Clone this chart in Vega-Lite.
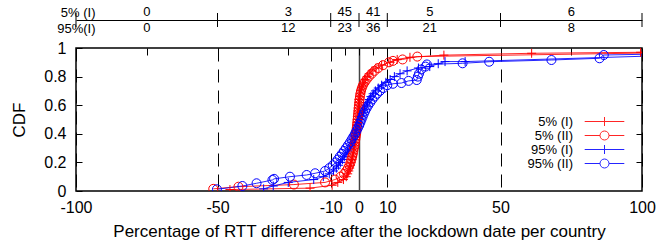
{
  "$schema": "https://vega.github.io/schema/vega-lite/v6.json",
  "background": "white",
  "padding": {"left": 10, "top": 4, "right": 0, "bottom": 0},
  "spacing": 3,
  "config": {
    "font": "Liberation Sans",
    "view": {"stroke": "black", "strokeWidth": 1.5},
    "axis": {"labelFont": "Liberation Sans", "titleFont": "Liberation Sans", "labelColor": "black", "titleColor": "black"}
  },
  "vconcat": [
    {
      "width": 566,
      "height": 32,
      "view": {"stroke": null},
      "layer": [
        {
          "data": {"values": [{"b": -100}, {"b": -50}, {"b": -10}, {"b": 0}, {"b": 10}, {"b": 50}, {"b": 100}]},
          "mark": {"type": "tick", "size": 14, "thickness": 1, "color": "black", "opacity": 1},
          "encoding": {
            "x": {"field": "b", "type": "quantitative", "scale": {"domain": [-100, 100], "nice": false, "zero": false},
              "axis": {"orient": "bottom", "offset": -16, "domain": true, "domainColor": "black", "domainWidth": 1, "ticks": false, "labels": false, "grid": false, "title": null}}
          }
        },
        {
          "data": {"values": [
            {"row": "5% (I)", "mid": -75, "n": "0"}, {"row": "5% (I)", "mid": -25, "n": "3"}, {"row": "5% (I)", "mid": -5, "n": "45"},
            {"row": "5% (I)", "mid": 5, "n": "41"}, {"row": "5% (I)", "mid": 25, "n": "5"}, {"row": "5% (I)", "mid": 75, "n": "6"},
            {"row": "95%(I)", "mid": -75, "n": "0"}, {"row": "95%(I)", "mid": -25, "n": "12"}, {"row": "95%(I)", "mid": -5, "n": "23"},
            {"row": "95%(I)", "mid": 5, "n": "36"}, {"row": "95%(I)", "mid": 25, "n": "21"}, {"row": "95%(I)", "mid": 75, "n": "8"}
          ]},
          "mark": {"type": "text", "fontSize": 13, "font": "Liberation Sans", "color": "black"},
          "encoding": {
            "x": {"field": "mid", "type": "quantitative"},
            "y": {"field": "row", "type": "nominal", "scale": {"domain": ["5% (I)", "95%(I)"], "paddingInner": 0, "paddingOuter": 0},
              "axis": {"title": null, "ticks": false, "domain": false, "labelFontSize": 13, "labelPadding": -19, "labelAlign": "right", "grid": false}},
            "text": {"field": "n"}
          }
        }
      ]
    },
    {
      "width": 566,
      "height": 143,
      "data": {"values": [
        {"s":"5% (I)","x":-45.6,"y":0.01},{"s":"5% (I)","x":-17.3,"y":0.02},{"s":"5% (I)","x":-9.5,"y":0.04},{"s":"5% (I)","x":-7.5,"y":0.06},{"s":"5% (I)","x":-5.5,"y":0.08},{"s":"5% (I)","x":-4.5,"y":0.10},{"s":"5% (I)","x":-4.0,"y":0.12},{"s":"5% (I)","x":-3.6,"y":0.14},{"s":"5% (I)","x":-3.3,"y":0.16},{"s":"5% (I)","x":-3.0,"y":0.18},{"s":"5% (I)","x":-2.8,"y":0.20},{"s":"5% (I)","x":-2.5,"y":0.22},{"s":"5% (I)","x":-2.3,"y":0.24},{"s":"5% (I)","x":-2.1,"y":0.26},{"s":"5% (I)","x":-1.9,"y":0.28},{"s":"5% (I)","x":-1.7,"y":0.30},{"s":"5% (I)","x":-1.5,"y":0.32},{"s":"5% (I)","x":-1.4,"y":0.34},{"s":"5% (I)","x":-1.3,"y":0.36},{"s":"5% (I)","x":-1.2,"y":0.38},{"s":"5% (I)","x":-1.1,"y":0.40},{"s":"5% (I)","x":-1.0,"y":0.42},{"s":"5% (I)","x":-0.9,"y":0.44},{"s":"5% (I)","x":-0.8,"y":0.46},{"s":"5% (I)","x":-0.7,"y":0.48},{"s":"5% (I)","x":-0.6,"y":0.50},{"s":"5% (I)","x":-0.5,"y":0.52},{"s":"5% (I)","x":-0.4,"y":0.54},{"s":"5% (I)","x":-0.35,"y":0.56},{"s":"5% (I)","x":-0.3,"y":0.58},{"s":"5% (I)","x":-0.2,"y":0.60},{"s":"5% (I)","x":-0.1,"y":0.62},{"s":"5% (I)","x":0.0,"y":0.64},{"s":"5% (I)","x":0.2,"y":0.66},{"s":"5% (I)","x":0.4,"y":0.68},{"s":"5% (I)","x":0.6,"y":0.70},{"s":"5% (I)","x":0.9,"y":0.72},{"s":"5% (I)","x":1.3,"y":0.74},{"s":"5% (I)","x":1.7,"y":0.76},{"s":"5% (I)","x":2.2,"y":0.78},{"s":"5% (I)","x":2.9,"y":0.80},{"s":"5% (I)","x":3.6,"y":0.82},{"s":"5% (I)","x":4.6,"y":0.84},{"s":"5% (I)","x":6.0,"y":0.86},{"s":"5% (I)","x":8.0,"y":0.88},{"s":"5% (I)","x":11.0,"y":0.90},{"s":"5% (I)","x":13.5,"y":0.92},{"s":"5% (I)","x":18,"y":0.935},{"s":"5% (I)","x":30,"y":0.95},{"s":"5% (I)","x":61,"y":0.963},{"s":"5% (I)","x":99.5,"y":0.97},{"s":"5% (I)","x":140,"y":0.98},
        {"s":"5% (II)","x":-51.5,"y":0.015},{"s":"5% (II)","x":-42.6,"y":0.03},{"s":"5% (II)","x":-23,"y":0.045},{"s":"5% (II)","x":-12,"y":0.06},{"s":"5% (II)","x":-8.5,"y":0.08},{"s":"5% (II)","x":-6.5,"y":0.10},{"s":"5% (II)","x":-5.3,"y":0.12},{"s":"5% (II)","x":-4.5,"y":0.14},{"s":"5% (II)","x":-3.9,"y":0.16},{"s":"5% (II)","x":-3.4,"y":0.18},{"s":"5% (II)","x":-3.0,"y":0.20},{"s":"5% (II)","x":-2.7,"y":0.22},{"s":"5% (II)","x":-2.4,"y":0.24},{"s":"5% (II)","x":-2.2,"y":0.26},{"s":"5% (II)","x":-2.0,"y":0.28},{"s":"5% (II)","x":-1.8,"y":0.30},{"s":"5% (II)","x":-1.6,"y":0.32},{"s":"5% (II)","x":-1.45,"y":0.34},{"s":"5% (II)","x":-1.3,"y":0.36},{"s":"5% (II)","x":-1.15,"y":0.38},{"s":"5% (II)","x":-1.0,"y":0.40},{"s":"5% (II)","x":-0.9,"y":0.42},{"s":"5% (II)","x":-0.8,"y":0.44},{"s":"5% (II)","x":-0.7,"y":0.46},{"s":"5% (II)","x":-0.6,"y":0.48},{"s":"5% (II)","x":-0.5,"y":0.50},{"s":"5% (II)","x":-0.4,"y":0.52},{"s":"5% (II)","x":-0.3,"y":0.54},{"s":"5% (II)","x":-0.2,"y":0.56},{"s":"5% (II)","x":-0.1,"y":0.58},{"s":"5% (II)","x":0.0,"y":0.60},{"s":"5% (II)","x":0.1,"y":0.62},{"s":"5% (II)","x":0.2,"y":0.64},{"s":"5% (II)","x":0.35,"y":0.66},{"s":"5% (II)","x":0.5,"y":0.68},{"s":"5% (II)","x":0.7,"y":0.70},{"s":"5% (II)","x":1.0,"y":0.72},{"s":"5% (II)","x":1.4,"y":0.74},{"s":"5% (II)","x":2.0,"y":0.76},{"s":"5% (II)","x":2.7,"y":0.78},{"s":"5% (II)","x":3.5,"y":0.80},{"s":"5% (II)","x":4.5,"y":0.82},{"s":"5% (II)","x":5.5,"y":0.84},{"s":"5% (II)","x":6.8,"y":0.86},{"s":"5% (II)","x":8.5,"y":0.88},{"s":"5% (II)","x":10.6,"y":0.90},{"s":"5% (II)","x":12,"y":0.91},{"s":"5% (II)","x":15.4,"y":0.92},{"s":"5% (II)","x":20.6,"y":0.94},{"s":"5% (II)","x":150,"y":0.98},
        {"s":"95% (I)","x":-33.7,"y":0.015},{"s":"95% (I)","x":-30.3,"y":0.035},{"s":"95% (I)","x":-25,"y":0.06},{"s":"95% (I)","x":-16,"y":0.08},{"s":"95% (I)","x":-12.6,"y":0.10},{"s":"95% (I)","x":-10.5,"y":0.12},{"s":"95% (I)","x":-9,"y":0.14},{"s":"95% (I)","x":-8,"y":0.16},{"s":"95% (I)","x":-7.2,"y":0.18},{"s":"95% (I)","x":-6.5,"y":0.20},{"s":"95% (I)","x":-5.8,"y":0.22},{"s":"95% (I)","x":-5.2,"y":0.24},{"s":"95% (I)","x":-4.6,"y":0.26},{"s":"95% (I)","x":-4.0,"y":0.28},{"s":"95% (I)","x":-3.5,"y":0.30},{"s":"95% (I)","x":-3.0,"y":0.32},{"s":"95% (I)","x":-2.6,"y":0.34},{"s":"95% (I)","x":-2.2,"y":0.36},{"s":"95% (I)","x":-1.8,"y":0.38},{"s":"95% (I)","x":-1.4,"y":0.40},{"s":"95% (I)","x":-1.0,"y":0.42},{"s":"95% (I)","x":-0.7,"y":0.44},{"s":"95% (I)","x":-0.4,"y":0.46},{"s":"95% (I)","x":0.0,"y":0.48},{"s":"95% (I)","x":0.4,"y":0.50},{"s":"95% (I)","x":0.8,"y":0.52},{"s":"95% (I)","x":1.2,"y":0.54},{"s":"95% (I)","x":1.6,"y":0.56},{"s":"95% (I)","x":2.0,"y":0.58},{"s":"95% (I)","x":2.5,"y":0.60},{"s":"95% (I)","x":3.0,"y":0.62},{"s":"95% (I)","x":3.6,"y":0.64},{"s":"95% (I)","x":4.2,"y":0.66},{"s":"95% (I)","x":5.0,"y":0.68},{"s":"95% (I)","x":5.8,"y":0.70},{"s":"95% (I)","x":6.8,"y":0.72},{"s":"95% (I)","x":8.0,"y":0.74},{"s":"95% (I)","x":9.5,"y":0.76},{"s":"95% (I)","x":11,"y":0.78},{"s":"95% (I)","x":12.5,"y":0.80},{"s":"95% (I)","x":14.5,"y":0.82},{"s":"95% (I)","x":17,"y":0.84},{"s":"95% (I)","x":21,"y":0.86},{"s":"95% (I)","x":25,"y":0.87},{"s":"95% (I)","x":28,"y":0.89},{"s":"95% (I)","x":30.4,"y":0.905},{"s":"95% (I)","x":37.5,"y":0.905},{"s":"95% (I)","x":105,"y":0.945},
        {"s":"95% (II)","x":-50.2,"y":0.012},{"s":"95% (II)","x":-41.2,"y":0.035},{"s":"95% (II)","x":-36.2,"y":0.054},{"s":"95% (II)","x":-30.6,"y":0.077},{"s":"95% (II)","x":-30,"y":0.085},{"s":"95% (II)","x":-24.4,"y":0.10},{"s":"95% (II)","x":-18.5,"y":0.112},{"s":"95% (II)","x":-15.5,"y":0.124},{"s":"95% (II)","x":-12,"y":0.14},{"s":"95% (II)","x":-10.5,"y":0.16},{"s":"95% (II)","x":-9.3,"y":0.18},{"s":"95% (II)","x":-8.3,"y":0.20},{"s":"95% (II)","x":-7.5,"y":0.22},{"s":"95% (II)","x":-6.8,"y":0.24},{"s":"95% (II)","x":-6.0,"y":0.26},{"s":"95% (II)","x":-5.3,"y":0.28},{"s":"95% (II)","x":-4.6,"y":0.30},{"s":"95% (II)","x":-3.9,"y":0.32},{"s":"95% (II)","x":-3.2,"y":0.34},{"s":"95% (II)","x":-2.6,"y":0.36},{"s":"95% (II)","x":-2.0,"y":0.38},{"s":"95% (II)","x":-1.4,"y":0.40},{"s":"95% (II)","x":-0.9,"y":0.42},{"s":"95% (II)","x":-0.4,"y":0.44},{"s":"95% (II)","x":0.1,"y":0.46},{"s":"95% (II)","x":0.5,"y":0.48},{"s":"95% (II)","x":0.9,"y":0.50},{"s":"95% (II)","x":1.3,"y":0.52},{"s":"95% (II)","x":1.7,"y":0.54},{"s":"95% (II)","x":2.2,"y":0.56},{"s":"95% (II)","x":2.7,"y":0.58},{"s":"95% (II)","x":3.3,"y":0.60},{"s":"95% (II)","x":4.0,"y":0.62},{"s":"95% (II)","x":4.7,"y":0.64},{"s":"95% (II)","x":5.5,"y":0.66},{"s":"95% (II)","x":6.4,"y":0.68},{"s":"95% (II)","x":7.4,"y":0.70},{"s":"95% (II)","x":8.6,"y":0.72},{"s":"95% (II)","x":10,"y":0.74},{"s":"95% (II)","x":12,"y":0.75},{"s":"95% (II)","x":15,"y":0.755},{"s":"95% (II)","x":17.5,"y":0.77},{"s":"95% (II)","x":20.4,"y":0.776},{"s":"95% (II)","x":20.8,"y":0.80},{"s":"95% (II)","x":21.2,"y":0.82},{"s":"95% (II)","x":22,"y":0.85},{"s":"95% (II)","x":23.5,"y":0.87},{"s":"95% (II)","x":24,"y":0.885},{"s":"95% (II)","x":36.6,"y":0.893},{"s":"95% (II)","x":46,"y":0.904},{"s":"95% (II)","x":68,"y":0.916},{"s":"95% (II)","x":85,"y":0.928},{"s":"95% (II)","x":86.5,"y":0.951},{"s":"95% (II)","x":140,"y":0.97}
      ]},
      "layer": [
        {
          "mark": {"type": "line", "strokeWidth": 1, "clip": true, "opacity": 0.85},
          "encoding": {
            "x": {"field": "x", "type": "quantitative", "scale": {"domain": [-100, 100], "nice": false, "zero": false},
              "axis": {"orient": "bottom", "values": [-100, -50, -10, 0, 10, 50, 100], "labelExpr": "'' + datum.value", "ticks": false, "domain": false,
                "grid": true,
                "gridColor": {"condition": {"test": "datum.value === 0", "value": "#444444"}, "value": "black"},
                "gridDash": {"condition": {"test": "datum.value === 0", "value": []}, "value": [13, 8]},
                "gridWidth": {"condition": {"test": "datum.value === 0", "value": 1.5}, "value": 1},
                "labelFontSize": 16, "labelPadding": 8, "labelFlush": false,
                "title": "Percentage of RTT difference after the lockdown date per country", "titleFontSize": 17, "titleFontWeight": "normal", "titlePadding": 8}},
            "y": {"field": "y", "type": "quantitative", "scale": {"domain": [0, 1], "nice": false},
              "axis": {"orient": "left", "values": [0, 0.2, 0.4, 0.6, 0.8, 1], "labelExpr": "'' + datum.value", "ticks": true, "tickSize": -6, "tickColor": "black", "domain": false, "grid": false,
                "labelFontSize": 16, "labelPadding": 16, "labelFlush": false, "title": "CDF", "titleFontSize": 17, "titleFontWeight": "normal", "titlePadding": 15}},
            "color": {"field": "s", "type": "nominal", "scale": {"domain": ["5% (I)", "5% (II)", "95% (I)", "95% (II)"], "range": ["#ff0000", "#ff0000", "#0000ff", "#0000ff"]}}
          }
        },
        {
          "transform": [{"filter": "indexof(datum.s, '(II)') < 0"}],
          "mark": {"type": "point", "shape": "M-1,0L1,0M0,-1L0,1", "filled": false, "strokeWidth": 1, "clip": true, "size": 81, "opacity": 1},
          "encoding": {
            "x": {"field": "x", "type": "quantitative", "scale": {"domain": [-100, 100], "nice": false, "zero": false},
              "axis": {"orient": "top", "values": [-75, -50, -25, -10, -5, 0, 5, 10, 25, 50, 75], "labels": false, "domain": false, "grid": false, "ticks": true, "tickSize": -7, "tickColor": "black", "title": null}},
            "y": {"field": "y", "type": "quantitative", "scale": {"domain": [0, 1], "nice": false},
              "axis": {"orient": "right", "values": [0.2, 0.4, 0.6, 0.8], "labels": false, "domain": false, "grid": false, "ticks": true, "tickSize": -6, "tickColor": "black", "title": null}},
            "color": {"field": "s", "type": "nominal", "scale": {"domain": ["5% (I)", "5% (II)", "95% (I)", "95% (II)"], "range": ["#ff0000", "#ff0000", "#0000ff", "#0000ff"]}}
          }
        },
        {
          "transform": [{"filter": "indexof(datum.s, '(II)') >= 0"}],
          "mark": {"type": "point", "shape": "M-1,0A1,1 0 1,1 1,0A1,1 0 1,1 -1,0", "filled": false, "strokeWidth": 1, "clip": true, "size": 81, "opacity": 1},
          "encoding": {
            "x": {"field": "x", "type": "quantitative", "scale": {"domain": [-100, 100], "nice": false, "zero": false}, "axis": null},
            "y": {"field": "y", "type": "quantitative", "scale": {"domain": [0, 1], "nice": false}, "axis": null},
            "color": {"field": "s", "type": "nominal", "scale": {"domain": ["5% (I)", "5% (II)", "95% (I)", "95% (II)"], "range": ["#ff0000", "#ff0000", "#0000ff", "#0000ff"]}}
          }
        },
        {
          "transform": [{"filter": "false"}],
          "mark": {"type": "point", "filled": false, "strokeWidth": 1, "size": 81, "opacity": 1},
          "encoding": {
            "x": {"field": "x", "type": "quantitative", "scale": {"domain": [-100, 100], "nice": false, "zero": false}, "axis": null},
            "y": {"field": "y", "type": "quantitative", "scale": {"domain": [0, 1], "nice": false}, "axis": null},
            "color": {"field": "s", "type": "nominal", "scale": {"domain": ["5% (I)", "5% (II)", "95% (I)", "95% (II)"], "range": ["#ff0000", "#ff0000", "#0000ff", "#0000ff"]},
              "legend": {"orient": "none", "legendX": 522, "legendY": 111, "title": null, "labelFontSize": 13, "labelFont": "Liberation Sans", "labelColor": "black",
                "labelAlign": "right", "labelOffset": -38, "symbolSize": 81, "symbolStrokeWidth": 1, "symbolOpacity": 1, "rowPadding": -0.7}},
            "shape": {"field": "s", "type": "nominal",
              "scale": {"domain": ["5% (I)", "5% (II)", "95% (I)", "95% (II)"], "range": ["M-4.4,0L4.4,0M0,-1L0,1", "M-4.4,0L-1,0M1,0L4.4,0M-1,0A1,1 0 1,1 1,0A1,1 0 1,1 -1,0", "M-4.4,0L4.4,0M0,-1L0,1", "M-4.4,0L-1,0M1,0L4.4,0M-1,0A1,1 0 1,1 1,0A1,1 0 1,1 -1,0"]},
              "legend": {"orient": "none", "legendX": 522, "legendY": 111, "title": null, "labelFontSize": 13, "labelFont": "Liberation Sans", "labelColor": "black",
                "labelAlign": "right", "labelOffset": -38, "symbolSize": 81, "symbolStrokeWidth": 1, "symbolOpacity": 1, "rowPadding": -0.7}}
          }
        }
      ],
      "resolve": {"axis": {"x": "independent", "y": "independent"}}
    }
  ]
}
